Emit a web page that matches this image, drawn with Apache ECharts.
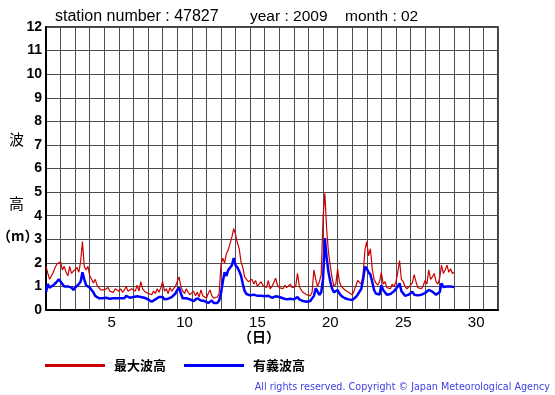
<!DOCTYPE html>
<html><head><meta charset="utf-8">
<script src="https://cdn.jsdelivr.net/npm/echarts@6/dist/echarts.min.js"></script>
<style>html,body{margin:0;padding:0;background:#fff}#c{width:555px;height:395px}</style>
</head><body><div id="c"></div>
<script>
// Time step: 3-hourly readings starting Feb 1 00:00 (x in days)
const stepDays = 3 / 24;
const yTicks = [0,1,2,3,4,5,6,7,8,9,10,11,12];
const dayLabels = [5,10,15,20,25,30];
const seriesNames = ['最大波高','有義波高'];
const maxWave = [
 1.85,1.55,1.3,1.45,1.6,1.8,1.95,2.0,
 2.05,1.7,1.85,1.6,1.45,1.85,1.55,1.65,
 1.7,1.8,1.6,2.05,2.9,1.85,1.7,1.85,
 1.45,1.3,1.15,1.3,1.05,0.95,0.85,0.9,
 0.85,0.8,0.95,0.8,0.85,0.75,0.9,0.85,
 0.8,0.9,0.75,0.85,1.0,0.8,0.85,0.9,
 0.85,0.8,1.05,0.8,1.2,0.9,0.8,0.85,
 0.7,0.75,0.65,0.8,0.7,0.9,0.75,0.95,
 1.2,0.8,0.9,0.7,0.95,0.8,0.85,1.0,
 1.2,1.4,1.0,0.8,0.7,0.9,0.75,0.65,
 0.7,0.8,0.6,0.75,0.55,0.85,0.6,0.65,
 0.5,0.7,0.85,0.6,0.5,0.45,0.55,0.7,
 1.9,2.2,2.0,2.4,2.55,2.6,3.1,3.45,
 3.2,2.85,2.6,2.05,1.8,1.4,1.3,1.2,
 1.25,1.3,1.1,1.25,1.0,0.95,1.2,1.05,
 1.1,0.95,1.25,0.9,1.0,0.95,1.35,1.05,
 0.95,1.0,0.9,1.05,0.95,0.9,1.1,0.95,
 0.9,1.0,1.55,1.0,0.85,0.75,0.7,0.65,
 0.7,0.6,0.75,1.7,1.3,1.0,1.2,1.5,
 3.9,4.95,3.4,2.45,1.85,1.35,1.0,1.1,
 1.75,1.2,1.0,0.95,0.85,0.9,0.75,0.7,
 0.65,0.8,0.75,1.25,1.3,1.1,1.5,2.55,
 2.9,2.3,2.6,1.75,1.3,1.15,1.05,1.2,
 1.6,1.1,1.2,0.95,1.0,0.9,1.1,1.0,
 1.2,1.6,2.1,1.3,1.2,1.0,0.9,0.95,
 1.05,1.15,1.5,1.2,0.95,1.0,0.9,1.05,
 1.25,1.1,1.7,1.3,1.4,1.55,1.2,1.1,
 1.35,1.9,1.55,1.7,1.9,1.6,1.75,1.55,
 1.6
];
const sigWave = [
 0.75,1.1,0.95,0.9,1.05,1.0,1.2,1.3,
 1.35,1.1,1.0,1.05,1.0,1.0,0.95,0.85,
 0.95,1.0,1.1,1.2,1.6,1.3,1.05,1.0,
 0.95,0.85,0.75,0.6,0.55,0.5,0.52,0.5,
 0.5,0.52,0.5,0.48,0.55,0.5,0.52,0.5,
 0.48,0.5,0.55,0.5,0.6,0.55,0.52,0.6,
 0.55,0.6,0.58,0.65,0.55,0.5,0.52,0.48,
 0.45,0.4,0.35,0.4,0.45,0.5,0.55,0.6,
 0.55,0.45,0.5,0.48,0.5,0.55,0.6,0.7,
 0.85,0.95,0.7,0.5,0.45,0.5,0.55,0.45,
 0.4,0.38,0.45,0.5,0.45,0.4,0.42,0.38,
 0.35,0.3,0.35,0.4,0.3,0.28,0.3,0.4,
 0.7,1.2,1.6,1.45,1.7,1.65,1.9,2.2,
 1.9,1.8,1.65,1.45,1.1,0.8,0.68,0.65,
 0.62,0.6,0.65,0.58,0.6,0.55,0.6,0.62,
 0.58,0.55,0.6,0.55,0.52,0.55,0.58,0.55,
 0.55,0.52,0.5,0.48,0.45,0.5,0.48,0.45,
 0.45,0.48,0.55,0.45,0.4,0.38,0.35,0.35,
 0.35,0.38,0.4,0.6,0.92,0.85,0.64,0.75,
 1.3,3.05,2.2,1.6,1.2,0.9,0.75,0.7,
 0.85,0.7,0.6,0.55,0.5,0.48,0.45,0.42,
 0.42,0.45,0.55,0.65,0.7,0.9,1.3,1.84,
 1.75,1.6,1.5,1.2,0.85,0.7,0.7,0.65,
 1.05,0.85,0.8,0.65,0.62,0.68,0.7,0.8,
 0.9,1.0,1.13,0.8,0.72,0.6,0.58,0.65,
 0.7,0.78,0.65,0.6,0.62,0.68,0.65,0.7,
 0.72,0.8,0.85,0.92,0.78,0.7,0.65,0.62,
 0.75,1.13,0.98,0.95,1.0,0.98,1.0,0.98,
 0.97
];

const toPairs = arr => arr.map((v,i) => [i*stepDays, v]);
const chart = echarts.init(document.getElementById('c'), null, {renderer:'canvas'});
const latin = '"Liberation Sans", Arial, sans-serif';
const cjk = '"Noto Sans CJK JP", sans-serif';
chart.setOption({
  backgroundColor:'#fff',
  animation:false,
  grid:{left:46, top:27, right:57, bottom:85, show:true, borderColor:'#000', borderWidth:1.5, backgroundColor:'transparent'},
  xAxis:[
    {type:'value', min:0, max:31, interval:1,
     axisLine:{show:true, onZero:false, lineStyle:{color:'#000', width:2}},
     axisTick:{show:false}, axisLabel:{show:false},
     splitLine:{show:true, lineStyle:{color:'#4d4d4d', width:1}}},
    {type:'value', min:0.5, max:31.5, interval:0.5, position:'bottom',
     axisLine:{show:false}, axisTick:{show:false}, splitLine:{show:false},
     axisLabel:{show:true, margin:5, color:'#000', fontSize:15, fontFamily:latin,
       formatter: v => dayLabels.includes(v) ? String(v) : ''}}
  ],
  yAxis:{type:'value', min:yTicks[0], max:yTicks[yTicks.length-1], interval:1,
    axisLine:{show:true, lineStyle:{color:'#000', width:2}},
    axisTick:{show:false},
    axisLabel:{margin:4, color:'#000', fontSize:14, fontWeight:'bold', fontFamily:latin},
    splitLine:{show:true, lineStyle:{color:'#4d4d4d', width:1}}},
  legend:{left:40, top:354, itemWidth:60, itemHeight:3, itemGap:18, icon:'rect',
    textStyle:{fontSize:13, fontWeight:'bold', color:'#000', fontFamily:cjk, padding:[0,0,0,4]},
    data:seriesNames},
  series:[
    {name:seriesNames[0], type:'line', xAxisIndex:0, data:toPairs(maxWave), showSymbol:false,
     lineStyle:{color:'#cc0000', width:1.2}, itemStyle:{color:'#cc0000'}},
    {name:seriesNames[1], type:'line', xAxisIndex:0, data:toPairs(sigWave), showSymbol:false,
     lineStyle:{color:'#0000ff', width:2.5}, itemStyle:{color:'#0000ff'}}
  ],
  graphic:[
    {type:'text', left:55, top:9, style:{text:'station number : 47827', fontSize:16, fontFamily:latin, fill:'#000'}},
    {type:'text', left:250, top:9, style:{text:'year : 2009', fontSize:15.5, fontFamily:latin, fill:'#000'}},
    {type:'text', left:345, top:9, style:{text:'month : 02', fontSize:15.5, fontFamily:latin, fill:'#000'}},
    {type:'text', left:9, top:132, style:{text:'波', fontSize:15, fontFamily:cjk, fill:'#000'}},
    {type:'text', left:9, top:196, style:{text:'高', fontSize:15, fontFamily:cjk, fill:'#000'}},
    {type:'text', left:-3, top:229, style:{text:'（m）', fontSize:14, fontWeight:'bold', fontFamily:cjk, fill:'#000'}},
    {type:'text', left:238, top:330, style:{text:'（日）', fontSize:14, fontWeight:'bold', fontFamily:cjk, fill:'#000'}},
    {type:'text', right:5, top:382, style:{text:'All rights reserved. Copyright © Japan Meteorological Agency', fontSize:9.6, fontFamily:'"DejaVu Sans", sans-serif', fill:'#4040e0'}}
  ]
});
</script></body></html>
